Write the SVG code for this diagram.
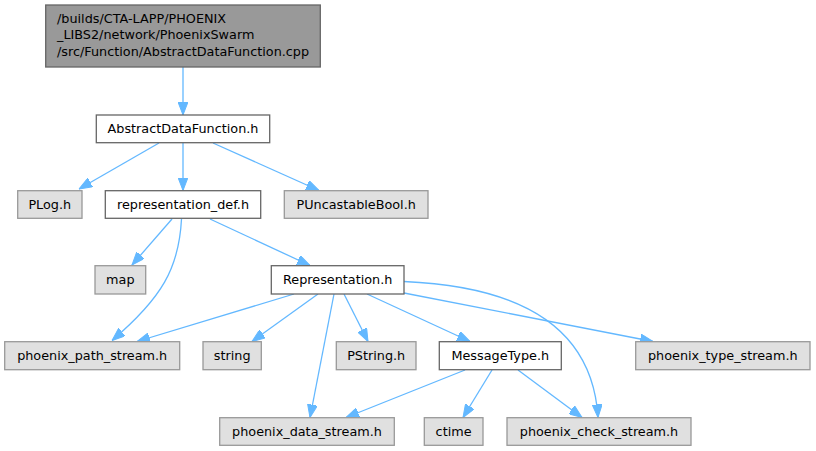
<svg xmlns="http://www.w3.org/2000/svg" width="816" height="451" viewBox="0 0 816 451">
<style>
  text { font-family: "DejaVu Sans", "Liberation Sans", sans-serif; font-size: 12.8px; fill: #000; }
  .c { text-anchor: middle; }
  .root rect { fill: #999999; stroke: #666666; stroke-width: 1.3; }
  .w rect { fill: #ffffff; stroke: #666666; stroke-width: 1.3; }
  .g rect { fill: #e0e0e0; stroke: #999999; stroke-width: 1.3; }
  #edges path { fill: none; stroke: #63b8ff; stroke-width: 1.3; }
</style>
<defs>
  <marker id="ah" viewBox="0 0 13 10" refX="13" refY="5" markerWidth="13" markerHeight="10" markerUnits="userSpaceOnUse" orient="auto">
    <path d="M0,0 L13,5 L0,10 Z" fill="#63b8ff" stroke="#63b8ff" stroke-width="1"/>
  </marker>
</defs>
<rect width="816" height="451" fill="#ffffff"/>
<g id="edges">
  <path d="M183,67 L183,115" marker-end="url(#ah)"/>
  <path d="M159,143 L79,189" marker-end="url(#ah)"/>
  <path d="M183,143 L183,190.5" marker-end="url(#ah)"/>
  <path d="M213,143 L319,190.5" marker-end="url(#ah)"/>
  <path d="M172,219 L132,265" marker-end="url(#ah)"/>
  <path d="M181.5,219 C179,268 162,298 112,340.5" marker-end="url(#ah)"/>
  <path d="M210,219 L310,265.5" marker-end="url(#ah)"/>
  <path d="M294,294 L137,341.5" marker-end="url(#ah)"/>
  <path d="M318,294 L252,341.5" marker-end="url(#ah)"/>
  <path d="M334,294 L310,417.5" marker-end="url(#ah)"/>
  <path d="M344,294 L368,341.5" marker-end="url(#ah)"/>
  <path d="M367,294 L470,341.5" marker-end="url(#ah)"/>
  <path d="M404,293 L653,341.5" marker-end="url(#ah)"/>
  <path d="M404,281.5 C510,286 592,320 598,417.5" marker-end="url(#ah)"/>
  <path d="M465,370 L346,417.5" marker-end="url(#ah)"/>
  <path d="M492,370 L463,417.5" marker-end="url(#ah)"/>
  <path d="M518,370 L582,417.5" marker-end="url(#ah)"/>
</g>
<g id="root" class="root">
  <rect x="45.7" y="5" width="274.6" height="62"/>
  <text x="57" y="22.6">/builds/CTA-LAPP/PHOENIX</text>
  <text x="57" y="39.4">_LIBS2/network/PhoenixSwarm</text>
  <text x="57" y="56.2">/src/Function/AbstractDataFunction.cpp</text>
</g>
<g id="n_abstractdatafunction" class="w">
  <rect x="96.3" y="115" width="173.4" height="27.7"/>
  <text class="c" x="183" y="133.4">AbstractDataFunction.h</text>
</g>
<g id="n_plog" class="g">
  <rect x="17.7" y="190.7" width="64.3" height="27.6"/>
  <text class="c" x="49.8" y="209">PLog.h</text>
</g>
<g id="n_representation_def" class="w">
  <rect x="105.3" y="190.7" width="155.4" height="27.6"/>
  <text class="c" x="183" y="209">representation_def.h</text>
</g>
<g id="n_puncastablebool" class="g">
  <rect x="284.3" y="190.7" width="143.7" height="27.6"/>
  <text class="c" x="356.2" y="209">PUncastableBool.h</text>
</g>
<g id="n_map" class="g">
  <rect x="95" y="265.7" width="50.7" height="28.3"/>
  <text class="c" x="120.3" y="284.4">map</text>
</g>
<g id="n_representation" class="w">
  <rect x="271.3" y="265.7" width="132.7" height="28.3"/>
  <text class="c" x="337.7" y="284.4">Representation.h</text>
</g>
<g id="n_phoenix_path_stream" class="g">
  <rect x="4.7" y="341.7" width="175" height="28"/>
  <text class="c" x="92.2" y="360.2">phoenix_path_stream.h</text>
</g>
<g id="n_string" class="g">
  <rect x="203" y="341.7" width="58.3" height="28"/>
  <text class="c" x="232.2" y="360.2">string</text>
</g>
<g id="n_pstring" class="g">
  <rect x="336.3" y="341.7" width="79.7" height="28"/>
  <text class="c" x="376.2" y="360.2">PString.h</text>
</g>
<g id="n_messagetype" class="w">
  <rect x="439.3" y="341.7" width="122" height="28"/>
  <text class="c" x="500.3" y="360.2">MessageType.h</text>
</g>
<g id="n_phoenix_type_stream" class="g">
  <rect x="635.7" y="341.7" width="174.3" height="28"/>
  <text class="c" x="722.8" y="360.2">phoenix_type_stream.h</text>
</g>
<g id="n_phoenix_data_stream" class="g">
  <rect x="219.7" y="417.7" width="174.6" height="27.6"/>
  <text class="c" x="307" y="436">phoenix_data_stream.h</text>
</g>
<g id="n_ctime" class="g">
  <rect x="424.3" y="417.7" width="58.7" height="27.6"/>
  <text class="c" x="453.6" y="436">ctime</text>
</g>
<g id="n_phoenix_check_stream" class="g">
  <rect x="507" y="417.7" width="184" height="27.6"/>
  <text class="c" x="599" y="436">phoenix_check_stream.h</text>
</g>
</svg>
